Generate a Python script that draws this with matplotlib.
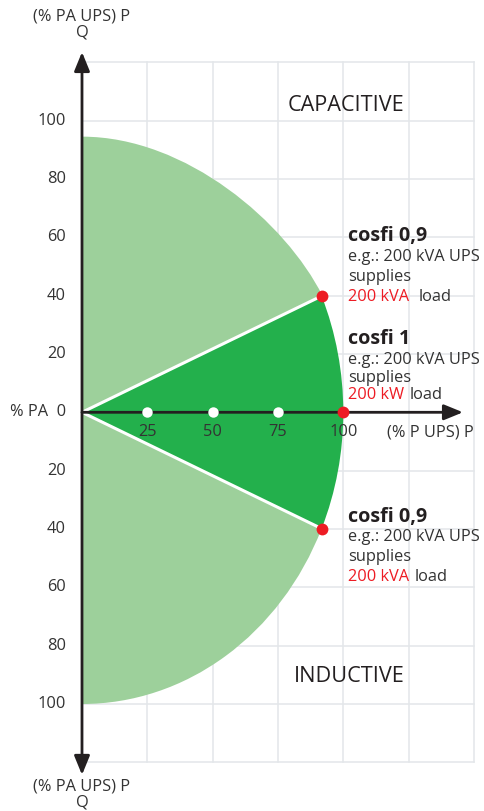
import numpy as np
import matplotlib
matplotlib.use('Agg')
import matplotlib.pyplot as plt
from matplotlib.patches import Wedge, PathPatch
from matplotlib.path import Path

plt.rcParams['font.family'] = ['Open Sans', 'DejaVu Sans']

# axis ticks (percent)
p_ticks = [25, 50, 75, 100]
q_ticks = [20, 40, 60, 80, 100]
grid_p = [25, 50, 75, 100, 125, 150]
grid_q = [20, 40, 60, 80, 100, 120]

# operating limits
radius = 100            # inductive / cosfi 1 limit
cap_q0 = 94.5           # capacitive limit at P = 0
cosfi09_p, cosfi09_q = 92, 40
white_dots = [25, 50, 75]

text_col = '#333333'
dark_col = '#231f20'
red = '#ed1c24'
light_green = '#9dd09b'
dark_green = '#23b04c'
grid_col = '#e3e6e9'

fig = plt.figure(figsize=(4.84, 8.11), dpi=100)
ax = fig.add_axes([0, 0, 1, 1])
ax.axis('off')
sx, sy = 2.613, 2.917  # px per unit
ox, oy = 82, 412.3
ax.set_xlim(-ox / sx, (484 - ox) / sx)
ax.set_ylim((oy - 811) / sy, oy / sy)

# grid
for g in grid_p:
    ax.plot([g, g], [-120, 120], color=grid_col, lw=1.1, zorder=0)
for g in grid_q:
    for s in (1, -1):
        ax.plot([0, 150], [s * g, s * g], color=grid_col, lw=1.1, zorder=0)

ang = np.degrees(np.arctan2(cosfi09_q, cosfi09_p))

# inductive region (light green, lower)
ax.add_patch(Wedge((0, 0), radius, -90, -ang, color=light_green, lw=0, zorder=1))
# capacitive region (light green, upper)
verts = [(0, 0), (cosfi09_p, cosfi09_q), (78, 65), (40, cap_q0), (0, cap_q0), (0, 0)]
codes = [Path.MOVETO, Path.LINETO, Path.CURVE4, Path.CURVE4, Path.CURVE4, Path.CLOSEPOLY]
ax.add_patch(PathPatch(Path(verts, codes), color=light_green, lw=0, zorder=1))
# cosfi 1 sector (dark green)
ax.add_patch(Wedge((0, 0), radius, -ang, ang, color=dark_green, lw=0, zorder=2))

# white separating lines
for s in (1, -1):
    ax.plot([0, cosfi09_p], [0, s * cosfi09_q], color='white', lw=2.2, zorder=3,
            solid_capstyle='butt')

# axes with arrows
ax.annotate('', xy=(0, 123.5), xytext=(0, -124.3),
            arrowprops=dict(arrowstyle='<|-|>,head_length=1.15,head_width=0.47',
                            color=dark_col, lw=2.0, shrinkA=0, shrinkB=0), zorder=5)
ax.annotate('', xy=(145.8, 0), xytext=(0, 0),
            arrowprops=dict(arrowstyle='-|>,head_length=1.15,head_width=0.47',
                            color=dark_col, lw=2.0, shrinkA=0, shrinkB=0), zorder=5)

# dots
ax.plot(white_dots, [0] * len(white_dots), 'o', color='white', ms=7.5, mew=0, zorder=6)
ax.plot([radius, cosfi09_p, cosfi09_p], [0, cosfi09_q, -cosfi09_q], 'o', color=red,
        ms=8.5, mew=0, zorder=6)

fs = 11.8
# tick labels
for p in p_ticks:
    ax.text(p, -6.9, str(p), ha='center', va='center', fontsize=fs, color=text_col)
ax.text(116.7, -6.9, '(% P UPS) P', ha='left', va='center', fontsize=fs, color=text_col)
for q in q_ticks:
    for s in (1, -1):
        ax.text(-6.24, s * q, str(q), ha='right', va='center', fontsize=fs, color=text_col)
ax.text(-6.24, 0, '% PA  0', ha='right', va='center', fontsize=fs, color=text_col)

ax.text(0, 135.7, '(% PA UPS) P', ha='center', va='center', fontsize=fs, color=text_col)
ax.text(0, 130.2, 'Q', ha='center', va='center', fontsize=fs, color=text_col)
ax.text(0, -128.3, '(% PA UPS) P', ha='center', va='center', fontsize=fs, color=text_col)
ax.text(0, -136.6, 'Q', ha='center', va='bottom', fontsize=fs, color=text_col)

ax.text(101, 105.3, 'CAPACITIVE', ha='center', va='center', fontsize=15.6, color=dark_col)
ax.text(102.2, -90.7, 'INDUCTIVE', ha='center', va='center', fontsize=15.6, color=dark_col)

# annotations
tx = 101.8
groups = [
    ([60.6, 53.4, 46.5, 39.6], 'cosfi 0,9', '200 kVA', 7.0),
    ([25.1, 18.0, 11.8, 6.0], 'cosfi 1', '200 kW', 3.6),
    ([-35.9, -42.7, -49.6, -56.4], 'cosfi 0,9', '200 kVA', 4.3),
]
for ys, title, load, gap in groups:
    ax.text(tx, ys[0], title, ha='left', va='center', fontsize=14.2, fontweight='bold',
            color=dark_col)
    ax.text(tx, ys[1], 'e.g.: 200 kVA UPS', ha='left', va='center', fontsize=fs,
            color=text_col)
    ax.text(tx, ys[2], 'supplies', ha='left', va='center', fontsize=fs, color=text_col)
    t = ax.text(tx, ys[3], load, ha='left', va='center', fontsize=fs, color=red)
    ax.annotate('load', xy=(1, 0.5), xycoords=t, xytext=(gap, 0),
                textcoords='offset points', ha='left', va='center', fontsize=fs,
                color=text_col)

fig.savefig('out.png', dpi=100)
